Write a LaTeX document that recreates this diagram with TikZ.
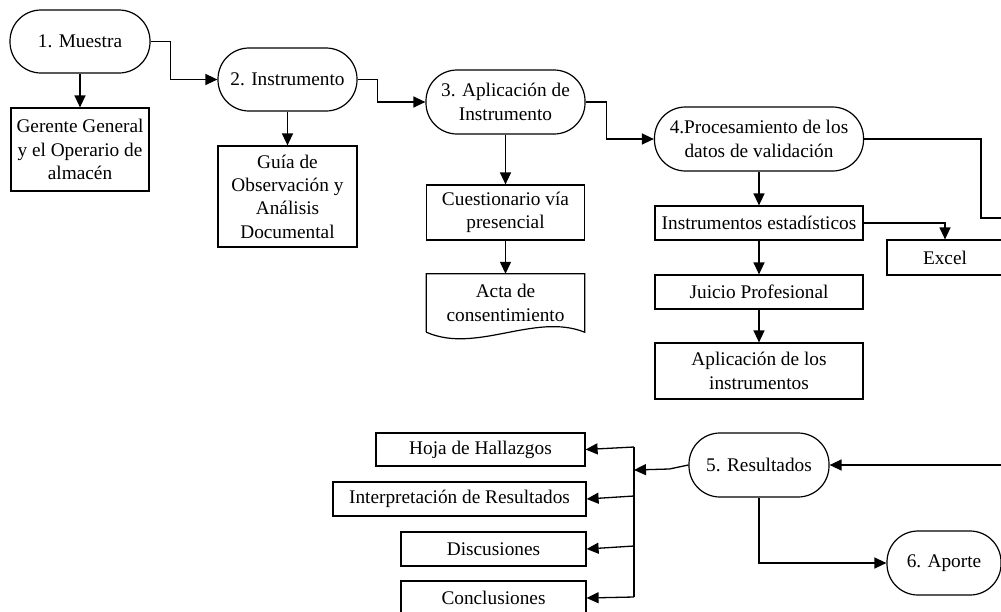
\documentclass[tikz,border=0pt]{standalone}
\usepackage{fontspec}
\setmainfont{Liberation Serif}
\usetikzlibrary{arrows.meta}

\begin{document}
\begin{tikzpicture}[x=1pt,y=-1pt,
    >={Triangle[length=12pt,width=11pt]},
    font=\fontsize{19.3}{23.3}\selectfont,
    term/.style={draw,line width=1.2pt,rounded corners=31pt,minimum height=64pt,align=center,inner sep=0pt},
    box/.style={draw,line width=1.2pt,align=center,inner sep=0pt}]
\useasboundingbox (0,0) rectangle (1001,611);
\clip (0,0) rectangle (1001,611);

\begin{scope}
    % etapas
    \node[term,minimum width=140pt,minimum height=63pt] (M1) at (80,41.5) {1. Muestra};
    \node[term,minimum width=139pt,minimum height=63pt] (M2) at (287.5,79.5) {2. Instrumento};
    \node[term,minimum width=159pt] (M3) at (505.5,102) {3. Aplicación de\\Instrumento};
    \node[term,minimum width=209pt] (M4) at (759,139) {4.Procesamiento de los\\datos de validación};
    \node[term,minimum width=140pt] (M5) at (759,465) {5. Resultados};
    \node[term,minimum width=114pt] (M6) at (944,563) {6. Aporte};
    % detalle
    \node[box,minimum width=138pt,minimum height=83pt] (G1) at (80,149.5) {Gerente General\\y el Operario de\\almacén};
    \node[box,minimum width=139pt,minimum height=101pt] (G2) at (287.5,196.5) {Guía de\\Observación y\\Análisis\\Documental};
    \node[box,minimum width=158pt,minimum height=55pt] (G3) at (505.5,212.5) {Cuestionario vía\\presencial};
    \node[align=center,inner sep=0pt,minimum width=158pt,minimum height=58pt] (D3) at (505.5,303) {Acta de\\consentimiento};
    \node[box,minimum width=208pt,minimum height=34pt] (P1) at (759,223) {Instrumentos estadísticos};
    \node[box,minimum width=208pt,minimum height=34pt] (P2) at (759,292) {Juicio Profesional};
    \node[box,minimum width=208pt,minimum height=56pt] (P3) at (759,371) {Aplicación de los\\instrumentos};
    \node[box,minimum width=116pt,minimum height=35pt] (EX) at (945,257.5) {Excel};
    % resultados
    \node[box,minimum width=209pt,minimum height=33pt] (R1) at (480.5,449.5) {Hoja de Hallazgos};
    \node[box,minimum width=253pt,minimum height=34pt] (R2) at (459.5,499) {Interpretación de Resultados};
    \node[box,minimum width=185pt,minimum height=34pt] (R3) at (493.5,549) {Discusiones};
    \node[box,minimum width=185pt,minimum height=34pt] (R4) at (493.5,598) {Conclusiones};
\end{scope}

% documento
\draw[line width=1.2pt] (D3.south west) -- (D3.north west) -- (D3.north east) -- (D3.south east)
    .. controls +(-50,-20) and +(50,22) .. (D3.south west);

\coordinate (B1) at (634,447);
\coordinate (B2) at (634,496);
\coordinate (B3) at (634,546);
\coordinate (B4) at (634,597);
\coordinate (B5) at (634,470);

\begin{scope}[line width=1.3pt,
              every edge/.style={draw,line width=1.3pt}]
    % hacia abajo
    \path [->] (M1) edge (G1);
    \path [->] (M2) edge (G2);
    \path [->] (M3) edge (G3);
    \path [->] (G3) edge (D3);
    \path [->] (M4) edge (P1);
    \path [->] (P1) edge (P2);
    \path [->] (P2) edge (P3);
    % secuencia
    \draw [->] (M1.east) -- ++(20,0) |- (M2.west);
    \draw [->] (M2.east) -- ++(20,0) |- (M3.west);
    \draw [->] (M3.east) -- ++(21,0) |- (M4.west);
    \draw [->] (M4.east) -- ++(117,0) -- ++(0,79) -- ++(60,0) |- (M5.east);
    \draw [->] (P1.east) -| (EX.north);
    \draw [->] (M5.south) |- (M6.west);
    % salidas
    \draw [->] (M5.west) -- ++(-19,4) -- (B5);
    \draw (B1) -- (B4);
    \path [->] (B1) edge (R1.east);
    \path [->] (B2) edge (R2.east);
    \path [->] (B3) edge (R3.east);
    \path [->] (B4) edge (R4.east);
\end{scope}
\end{tikzpicture}
\end{document}
